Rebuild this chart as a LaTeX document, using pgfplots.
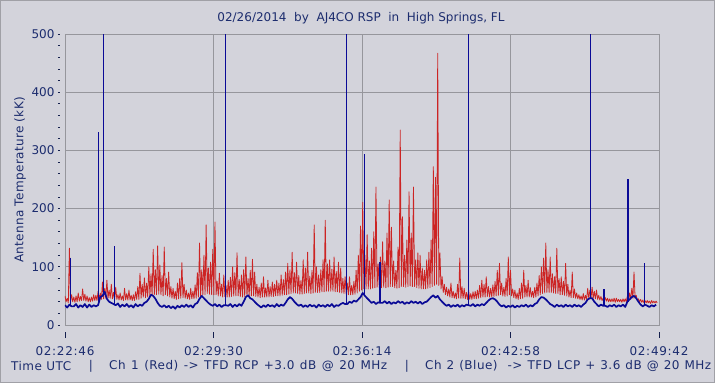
\documentclass[border=0pt]{standalone}
\usepackage{pgfplots}
\pgfplotsset{compat=1.18}
\usepackage{fontspec}
\setmainfont{DejaVu Sans}
\newfontfamily\wide[LetterSpace=6]{DejaVu Sans}
\newfontfamily\wider[LetterSpace=4]{DejaVu Sans}
\newfontfamily\semi[LetterSpace=3]{DejaVu Sans}
\definecolor{bg}{RGB}{211,211,219}
\definecolor{txt}{RGB}{28,44,110}
\definecolor{redc}{RGB}{204,36,36}
\definecolor{bluec}{RGB}{10,10,150}
\definecolor{gridc}{RGB}{150,150,156}
\definecolor{framec}{RGB}{160,160,166}
\newcommand\fs{\fontsize{12}{14}\selectfont}
\begin{document}
\begin{tikzpicture}[x=1pt,y=1pt]
\fill[bg] (-65,-58) rectangle (650,325);
\draw[framec, line width=1.5pt] (-64.25,-57.25) rectangle (649.25,324.25);
\useasboundingbox (-65,-58) rectangle (650,325);
\begin{axis}[at={(0,0)}, anchor=south west, scale only axis,
  width=594pt, height=291pt,
  xmin=0, xmax=1616, ymin=0, ymax=500,
  axis background/.style={fill=bg},
  axis line style={gridc, line width=0.8pt},
  grid=major, grid style={gridc, line width=0.8pt},
  xtick=\empty,
  extra x ticks={0,404,808,1212,1616},
  extra x tick labels={02:22:46,02:29:30,02:36:14,02:42:58,02:49:42},
  extra x tick style={major tick length=6pt, grid=major},
  minor xtick={67.33,134.67,202,269.33,336.67,471.33,538.67,606,673.33,740.67,875.33,942.67,1010,1077.33,1144.67,1279.33,1346.67,1414,1481.33,1548.67},
  ytick={0,100,200,300,400,500},
  minor y tick num=4,
  xtick pos=left, ytick pos=left,
  tick align=outside,
  major tick length=2pt, minor tick length=2pt,
  every major x tick/.append style={yshift=-7pt, txt!70!black, line width=0.8pt},
  every minor x tick/.append style={yshift=-8pt, txt!70!black, line width=0.8pt},
  every major y tick/.append style={xshift=-5pt, txt!70!black, line width=0.8pt},
  every minor y tick/.append style={xshift=-5pt, txt!70!black, line width=0.8pt},
  /pgf/number format/assume math mode=true,
  xticklabel style={font=\wide\fs, text=txt, anchor=north, yshift=-12pt},
  yticklabel style={font=\fs, text=txt, anchor=east, xshift=-5pt},
  unbounded coords=jump,
  clip=true,
]
\addplot[redc, line width=0.8pt, line join=round] table[row sep=\\, header=false, x expr=\coordindex*3, y index=0] {
50\\40\\46\\38\\132\\40\\52\\40\\48\\39\\50\\40\\55\\41\\49\\42\\62\\42\\53\\41\\
50\\40\\47\\40\\48\\41\\52\\42\\51\\42\\58\\44\\55\\44\\74\\45\\63\\46\\77\\46\\
60\\46\\70\\45\\56\\44\\65\\44\\52\\43\\55\\43\\50\\42\\63\\43\\54\\43\\60\\43\\
51\\42\\52\\42\\57\\44\\66\\44\\89\\46\\70\\48\\81\\47\\72\\48\\100\\50\\88\\50\\
130\\52\\95\\52\\136\\53\\103\\52\\85\\50\\134\\52\\80\\50\\91\\48\\66\\46\\63\\45\\
58\\44\\72\\45\\80\\46\\107\\47\\70\\46\\60\\45\\55\\44\\63\\45\\58\\45\\69\\46\\
90\\48\\141\\50\\95\\52\\120\\52\\172\\54\\98\\53\\108\\52\\130\\52\\177\\52\\75\\50\\
89\\50\\70\\48\\86\\49\\68\\48\\77\\48\\82\\49\\100\\50\\90\\50\\124\\50\\78\\49\\
86\\48\\95\\48\\117\\50\\80\\50\\94\\50\\113\\50\\91\\49\\70\\48\\65\\47\\72\\48\\
83\\48\\64\\48\\77\\48\\66\\49\\74\\49\\70\\50\\77\\50\\72\\50\\86\\51\\78\\52\\
91\\52\\106\\53\\95\\54\\125\\55\\90\\55\\108\\54\\85\\53\\77\\53\\112\\54\\98\\55\\
125\\55\\84\\54\\94\\55\\172\\56\\100\\56\\86\\56\\95\\57\\112\\57\\180\\58\\105\\58\\
112\\58\\96\\58\\117\\57\\92\\57\\108\\56\\98\\55\\80\\54\\83\\53\\72\\52\\83\\52\\
68\\52\\75\\53\\94\\55\\120\\58\\170\\60\\211\\62\\120\\62\\155\\62\\110\\62\\132\\63\\
160\\64\\237\\65\\105\\64\\117\\64\\143\\65\\110\\64\\158\\65\\215\\66\\168\\66\\110\\64\\
94\\63\\134\\64\\335\\66\\186\\66\\120\\65\\146\\66\\229\\67\\158\\66\\237\\66\\112\\64\\
124\\63\\120\\62\\98\\62\\94\\62\\112\\63\\125\\64\\146\\66\\272\\68\\254\\70\\467\\68\\
124\\62\\83\\56\\70\\52\\65\\50\\62\\48\\72\\47\\58\\46\\55\\45\\70\\46\\115\\46\\
66\\46\\63\\45\\56\\44\\60\\44\\54\\44\\57\\45\\58\\45\\60\\46\\68\\47\\77\\48\\
70\\48\\83\\49\\66\\48\\63\\48\\69\\49\\75\\50\\94\\51\\106\\52\\72\\50\\65\\49\\
80\\50\\117\\52\\94\\50\\62\\47\\60\\45\\55\\44\\63\\45\\72\\46\\94\\48\\68\\48\\
77\\48\\64\\48\\58\\47\\65\\48\\72\\50\\85\\52\\100\\54\\115\\55\\141\\56\\95\\56\\
117\\56\\88\\55\\83\\54\\132\\54\\80\\52\\83\\52\\75\\51\\106\\50\\70\\48\\60\\47\\
91\\47\\62\\46\\55\\45\\52\\44\\50\\43\\54\\43\\51\\44\\63\\46\\60\\46\\65\\46\\
58\\45\\60\\44\\51\\43\\49\\42\\46\\41\\47\\41\\46\\40\\45\\40\\45\\40\\46\\39\\
46\\40\\44\\40\\44\\39\\45\\40\\45\\40\\50\\42\\55\\44\\63\\46\\91\\46\\51\\42\\
45\\40\\44\\39\\43\\38\\42\\38\\42\\38\\41\\37\\42\\38\\41\\38\\41\\38\\
};
\addplot[bluec, line width=1.7pt, line join=round] table[row sep=\\, header=false, x expr=\coordindex*6, y index=0] {
34\\30\\35\\32\\32\\36\\30\\34\\31\\36\\
30\\35\\31\\34\\32\\34\\48\\50\\57\\45\\
40\\38\\36\\34\\37\\31\\35\\32\\36\\31\\
34\\30\\36\\32\\35\\33\\38\\40\\45\\52\\
50\\45\\38\\33\\31\\34\\30\\33\\29\\32\\
28\\33\\30\\34\\31\\35\\31\\34\\30\\36\\
38\\45\\50\\46\\42\\38\\35\\33\\36\\32\\
35\\31\\34\\34\\33\\36\\31\\35\\32\\36\\
33\\40\\48\\51\\46\\44\\40\\36\\33\\30\\
34\\31\\35\\32\\34\\31\\36\\32\\35\\33\\
38\\44\\48\\45\\40\\36\\33\\35\\31\\34\\
31\\35\\32\\34\\30\\35\\32\\34\\31\\35\\
32\\36\\31\\34\\33\\36\\38\\36\\36\\40\\
38\\42\\40\\44\\48\\55\\50\\46\\42\\38\\
40\\36\\39\\38\\38\\41\\37\\40\\36\\39\\
37\\41\\38\\40\\36\\39\\37\\41\\38\\40\\
37\\40\\36\\39\\40\\44\\48\\51\\47\\50\\
44\\40\\36\\33\\35\\31\\34\\32\\35\\31\\
34\\32\\35\\34\\33\\36\\32\\35\\33\\36\\
34\\38\\42\\45\\46\\44\\40\\35\\32\\34\\
30\\33\\31\\34\\30\\33\\31\\34\\32\\35\\
31\\34\\32\\36\\38\\44\\48\\47\\44\\40\\
36\\34\\31\\35\\32\\34\\31\\35\\32\\34\\
31\\35\\32\\34\\31\\35\\38\\44\\46\\46\\
40\\36\\32\\35\\33\\33\\31\\34\\32\\35\\
31\\34\\32\\35\\31\\40\\44\\48\\50\\46\\
40\\35\\32\\35\\33\\31\\34\\32\\35\\
};
\addplot[bluec, line width=1.3pt] coordinates {
(15.5,34)(15.5,115)(15.5,nan)
(90.6,36)(90.6,332)(90.6,nan)
(104,50)(104,510)(104,nan)
(134,36)(134,136)(134,nan)
(437,34)(437,510)(437,nan)
(765,36)(765,510)(765,nan)
(814,50)(814,293)(814,nan)
(857,38)(857,108)(857,nan)
(1097,34)(1097,510)(1097,nan)
(1430,46)(1430,510)(1430,nan)
(1466,33)(1466,62)(1466,nan)
(1532,40)(1532,251)(1532,nan)
(1576,35)(1576,106)
};
\end{axis}
\node[text=txt, font=\fs] at (296,307) {02/26/2014~~by~~AJ4CO RSP~~in~~High Springs, FL};
\node[text=txt, font=\semi\fs, rotate=90] at (-45,145) {Antenna Temperature (kK)};
\node[text=txt, font=\wider\fs, anchor=west, inner sep=0pt] at (-54,-41) {\makebox[60pt][s]{Time UTC}};
\node[text=txt, font=\fs, inner sep=0pt] at (26,-41) {|};
\node[text=txt, font=\wider\fs, anchor=west, inner sep=0pt] at (44,-41) {\makebox[278pt][s]{Ch 1 (Red) -> TFD RCP +3.0 dB @ 20 MHz}};
\node[text=txt, font=\fs, inner sep=0pt] at (342,-41) {|};
\node[text=txt, font=\wider\fs, anchor=west, inner sep=0pt] at (360,-41) {\makebox[286pt][s]{Ch 2 (Blue)~~-> TFD LCP + 3.6 dB @ 20 MHz}};
\end{tikzpicture}
\end{document}
